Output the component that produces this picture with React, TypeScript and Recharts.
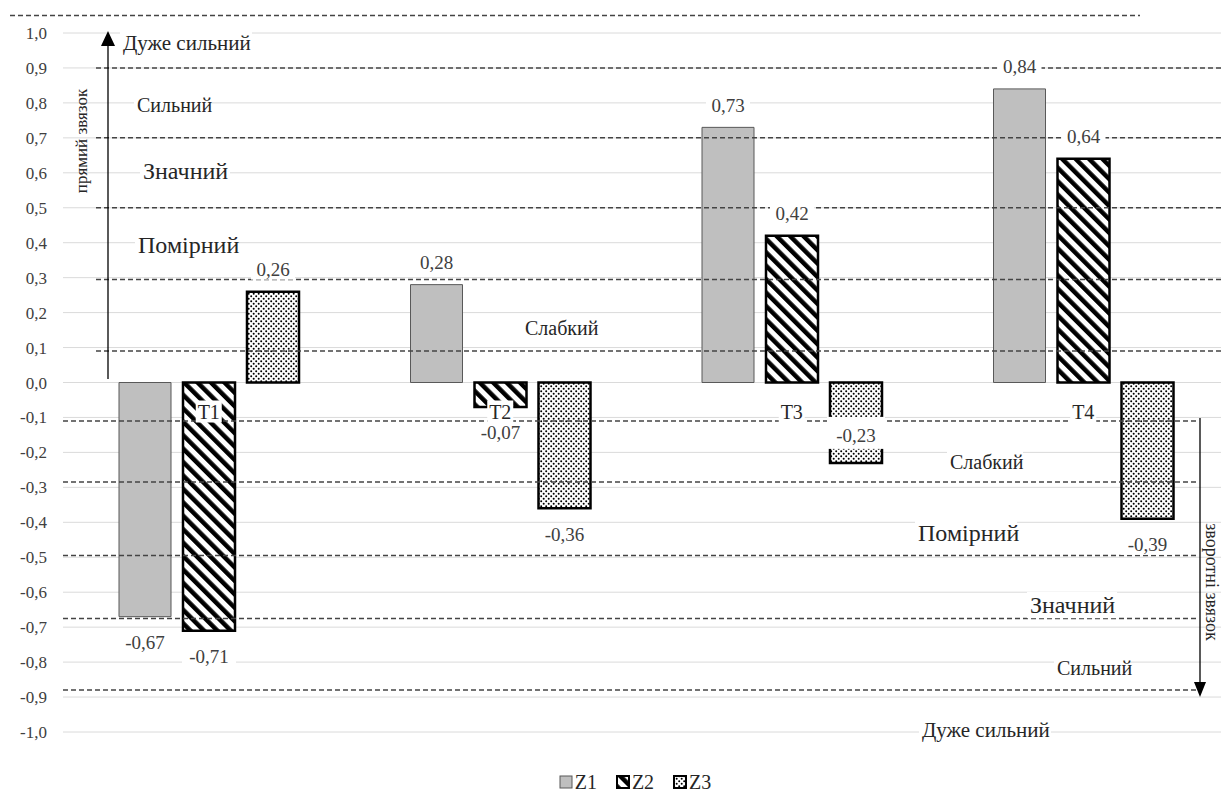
import { BarChart, Bar, XAxis, YAxis, CartesianGrid, Legend, LabelList, ReferenceLine, ReferenceDot } from 'recharts'

const categories = ['T1', 'T2', 'T3', 'T4']
const z1Values = [-0.67, 0.28, 0.73, 0.84]
const z2Values = [-0.71, -0.07, 0.42, 0.64]
const z3Values = [0.26, -0.36, -0.23, -0.39]
const seriesNames = ['Z1', 'Z2', 'Z3']
const yTicks = [-1, -0.9, -0.8, -0.7, -0.6, -0.5, -0.4, -0.3, -0.2, -0.1, 0, 0.1, 0.2, 0.3, 0.4, 0.5, 0.6, 0.7, 0.8, 0.9, 1]
// hand-drawn dashed boundary lines between strength zones
const zoneLines = [0.9, 0.7, 0.5, 0.295, 0.09, -0.11, -0.285, -0.495, -0.675, -0.88]
const topLine = 1.05

const data = categories.map((cat, i) => ({ cat, z1: z1Values[i], z2: z2Values[i], z3: z3Values[i] }))

const SERIF = '"Liberation Serif", "Times New Roman", serif'
const INSET = { series: 'z3', category: 'T3' }

// annotation text placed over the plot (page px)
const zoneText = [
  { text: 'Дуже сильний', x: 123, y: 43, size: 21 },
  { text: 'Сильний', x: 137, y: 105, size: 20 },
  { text: 'Значний', x: 143, y: 171, size: 24 },
  { text: 'Помірний', x: 138, y: 245, size: 24 },
  { text: 'Слабкий', x: 525, y: 328, size: 20 },
  { text: 'Слабкий', x: 950, y: 462, size: 20 },
  { text: 'Помірний', x: 918, y: 533, size: 24 },
  { text: 'Значний', x: 1030, y: 605, size: 24 },
  { text: 'Сильний', x: 1057, y: 668, size: 20 },
  { text: 'Дуже сильний', x: 922, y: 730, size: 21 },
]

const fmt2 = (v: number) => v.toFixed(2).replace('.', ',')
const fmt1 = (v: number) => v.toFixed(1).replace('.', ',')

function ValueLabel(props: any) {
  const vb = props.viewBox ?? props
  const { x, y, width, height } = vb
  const value = props.value as number
  const index = props.index as number
  const top = Math.min(y, y + height)
  const bottom = Math.max(y, y + height)
  const cx = x + width / 2
  const inset = props.seriesKey === INSET.series && categories[index] === INSET.category
  const cy = value >= 0 ? top - 22 : inset ? bottom - 27 : bottom + 26
  const text = fmt2(value)
  const bw = inset ? 58 : text.length * 10 + 4
  const bh = inset ? 32 : 20
  const by = inset ? cy - 19 : cy - 10
  return (
    <g>
      <rect x={cx - bw / 2} y={by} width={bw} height={bh} fill="#fff" />
      <text x={cx} y={cy} textAnchor="middle" dominantBaseline="central" fontFamily={SERIF} fontSize={19} fill="#404040">
        {text}
      </text>
    </g>
  )
}

function CatLabel(props: any) {
  const vb = props.viewBox
  const cx = vb.x + vb.width / 2
  const cy = vb.y + vb.height / 2 + 29
  return (
    <g>
      <rect x={cx - 13} y={cy - 11} width={26} height={22} fill="#fff" />
      <text x={cx} y={cy} textAnchor="middle" dominantBaseline="central" fontFamily={SERIF} fontSize={20} fill="#262626">
        {props.text}
      </text>
    </g>
  )
}

function DashedLine(props: any) {
  const { y1, value } = props
  let x1 = value > 0 ? 96 : 63
  let x2 = value > 0 ? 1221 : 1197
  if (value > 1) {
    x1 = 10
    x2 = 1140
  }
  return <line x1={x1} x2={x2} y1={y1} y2={y1} stroke="#444" strokeWidth={1.5} strokeDasharray="5 3" />
}

const swatchFill = ['#bfbfbf', 'url(#hatchZ2)', 'url(#dotsZ3)']
const swatchStroke = ['#595959', '#000', '#000']

function LegendContent() {
  return (
    <div style={{ display: 'flex', justifyContent: 'center', gap: 19, paddingLeft: 41, height: 28, alignItems: 'center', paddingTop: 10, boxSizing: 'border-box' }}>
      {seriesNames.map((s, i) => (
        <span key={s} style={{ display: 'inline-flex', alignItems: 'center', fontFamily: SERIF, fontSize: 20, color: '#262626' }}>
          <svg width={14} height={14} style={{ marginRight: 2 }}>
            <rect x={1} y={1} width={12} height={12} fill={swatchFill[i]} stroke={swatchStroke[i]} strokeWidth={i === 0 ? 1 : 2} />
          </svg>
          {s}
        </span>
      ))}
    </div>
  )
}

export default function App() {
  return (
    <div style={{ position: 'absolute', left: 0, top: 0, width: 1221, height: 791, overflow: 'hidden', background: '#fff' }}>
      <BarChart width={1250} height={791} data={data} margin={{ top: 33, right: 21, left: 0, bottom: 0 }} barSize={52} barGap={12}>
        <defs>
          <pattern id="hatchZ2" width={9.5} height={9.5} patternUnits="userSpaceOnUse" patternTransform="rotate(-45)">
            <rect x={0} y={0} width={9.5} height={9.5} fill="#fff" />
            <rect x={0} y={0} width={4.5} height={9.5} fill="#000" />
          </pattern>
          <pattern id="dotsZ3" width={5} height={5} patternUnits="userSpaceOnUse">
            <rect x={0} y={0} width={5} height={5} fill="#fff" />
            <circle cx={1.2} cy={1.2} r={1} fill="#000" />
            <circle cx={3.7} cy={3.7} r={1} fill="#000" />
          </pattern>
        </defs>
        <CartesianGrid vertical={false} stroke="#dadada" />
        <XAxis dataKey="cat" tick={false} axisLine={false} tickLine={false} height={31} />
        <YAxis
          domain={[-1, 1]}
          ticks={yTicks}
          tickFormatter={fmt1}
          width={63}
          axisLine={false}
          tickLine={false}
          tickMargin={10}
          interval={0}
          tick={{ fontSize: 17, fill: '#404040', fontFamily: SERIF }}
        />
        <Legend verticalAlign="bottom" content={<LegendContent />} />
        <Bar dataKey="z1" fill="#bfbfbf" stroke="#595959" strokeWidth={1} isAnimationActive={false}>
          <LabelList dataKey="z1" content={(p: any) => <ValueLabel {...p} seriesKey="z1" />} />
        </Bar>
        <Bar dataKey="z2" fill="url(#hatchZ2)" stroke="#000" strokeWidth={2.5} isAnimationActive={false}>
          <LabelList dataKey="z2" content={(p: any) => <ValueLabel {...p} seriesKey="z2" />} />
        </Bar>
        <Bar dataKey="z3" fill="url(#dotsZ3)" stroke="#000" strokeWidth={2.5} isAnimationActive={false}>
          <LabelList dataKey="z3" content={(p: any) => <ValueLabel {...p} seriesKey="z3" />} />
        </Bar>
        {[topLine, ...zoneLines].map((v) => (
          <ReferenceLine key={v} y={v} ifOverflow="visible" shape={(p: any) => <DashedLine {...p} value={v} />} />
        ))}
        {categories.map((c) => (
          <ReferenceDot key={c} x={c} y={0} r={0} fill="none" stroke="none" ifOverflow="visible" label={<CatLabel text={c} />} />
        ))}
      </BarChart>
      <svg width={1221} height={791} style={{ position: 'absolute', left: 0, top: 0, pointerEvents: 'none' }}>
        {zoneText.map((t, i) => (
          <g key={i}>
            <rect x={t.x - 3} y={t.y - t.size * 0.55} width={t.text.length * t.size * 0.5 + 6} height={t.size * 1.1} fill="#fff" />
            <text x={t.x} y={t.y} dominantBaseline="central" fontFamily={SERIF} fontSize={t.size} fill="#262626">
              {t.text}
            </text>
          </g>
        ))}
        <line x1={108} x2={108} y1={379} y2={44} stroke="#000" strokeWidth={1.3} />
        <polygon points="108,31 101,46 115,46" fill="#000" />
        <text x={81} y={141} transform="rotate(-90 81 141)" textAnchor="middle" dominantBaseline="central" fontFamily={SERIF} fontSize={17} fill="#262626">
          прямий звязок
        </text>
        <line x1={1200} x2={1200} y1={418} y2={684} stroke="#000" strokeWidth={1.3} />
        <polygon points="1200,697 1194,682 1206,682" fill="#000" />
        <text x={1212} y={582} transform="rotate(90 1212 582)" textAnchor="middle" dominantBaseline="central" fontFamily={SERIF} fontSize={18} fill="#262626">
          зворотні звязок
        </text>
      </svg>
    </div>
  )
}
